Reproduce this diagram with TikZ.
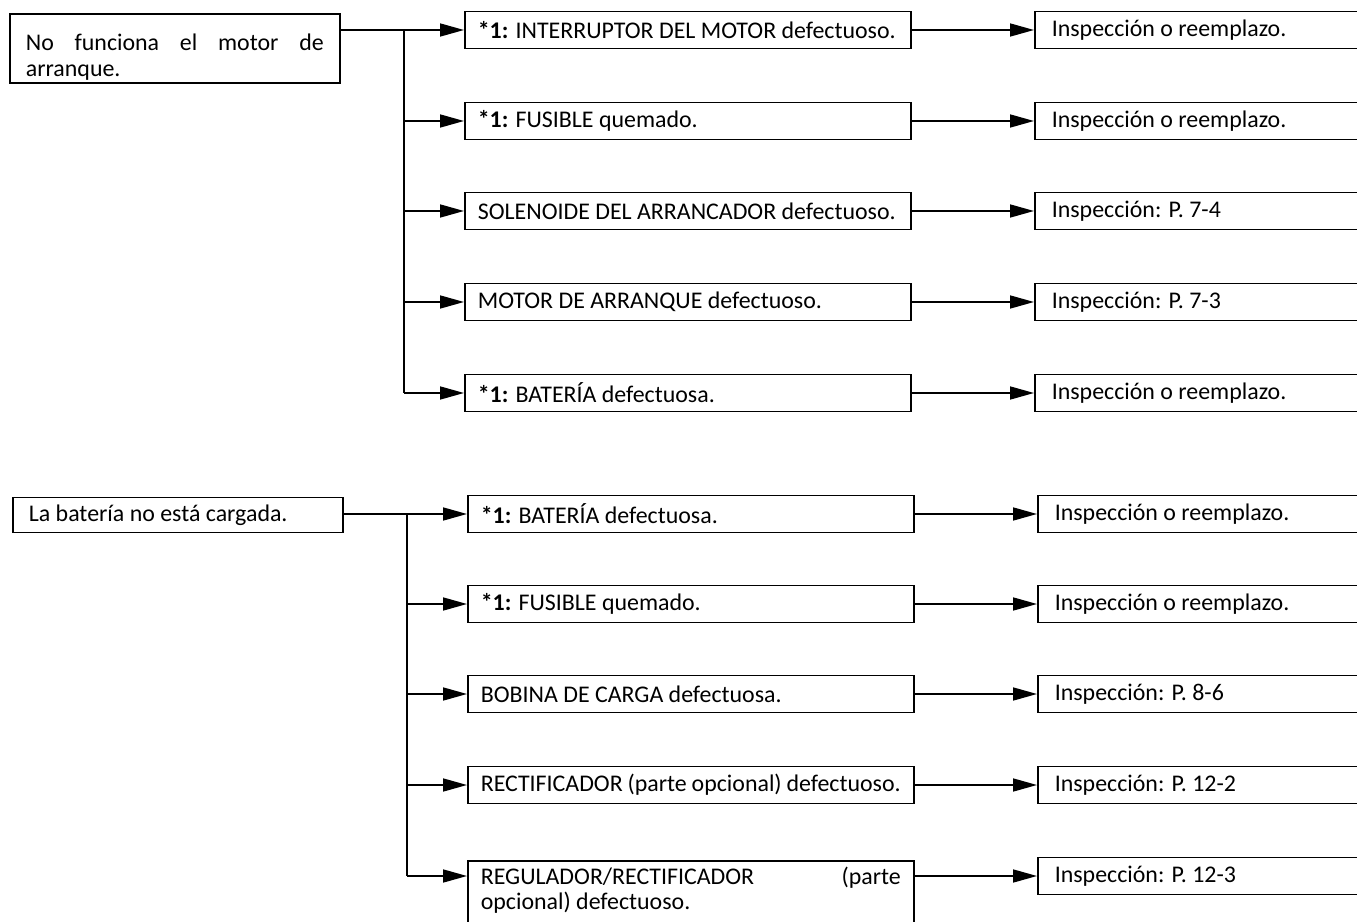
\documentclass[tikz,border=0pt]{standalone}
\usepackage{fontspec}
\setmainfont{Carlito}
\usetikzlibrary{arrows.meta,positioning}

\begin{document}
\begin{tikzpicture}[x=0.02cm,y=-0.02cm,
  font=\fontsize{13.6pt}{14.6pt}\selectfont,line width=0.95pt,
  srcbox/.style={draw,anchor=north west,minimum width=6.6cm,inner xsep=0.32cm,text width=5.96cm,align=justify},
  causebox/.style={draw,anchor=west,minimum height=0.74cm,inner xsep=0.26cm,text width=8.4cm,align=flush left},
  fixbox/.style={draw,anchor=west,minimum height=0.74cm,inner xsep=0.34cm,text width=6.3cm,align=flush left},
  arr/.style={-{Triangle[length=4.8mm,width=2.6mm]}}]
\useasboundingbox (0,0) rectangle (1357,922);

% starter motor
\node[srcbox,minimum height=1.38cm,text depth=0.25cm] (s1) at (9,13) {No funciona el motor de\linebreak arranque.};
\node[causebox] (m1) at (464,30) {\textbf{*1:} INTERRUPTOR DEL MOTOR defectuoso.};
\node[causebox] (m2) at (464,121) {\textbf{*1:} FUSIBLE quemado.};
\node[causebox] (m3) at (464,211) {SOLENOIDE DEL ARRANCADOR defectuoso.};
\node[causebox] (m4) at (464,302) {MOTOR DE ARRANQUE defectuoso.};
\node[causebox] (m5) at (464,393) {\textbf{*1:} BATERÍA defectuosa.};
\node[fixbox] (r1) at (1034,30) {Inspección o reemplazo.};
\node[fixbox] (r2) at (1034,121) {Inspección o reemplazo.};
\node[fixbox] (r3) at (1034,211) {Inspección: P. 7-4};
\node[fixbox] (r4) at (1034,302) {Inspección: P. 7-3};
\node[fixbox] (r5) at (1034,393) {Inspección o reemplazo.};
\coordinate (t1) at (404,0);

\draw (t1 |- m1.west) -- (t1 |- m5.west);
\draw[arr] (s1.east |- m1.west) -- (m1.west);
\draw[arr] (t1 |- m2.west) -- (m2.west);
\draw[arr] (t1 |- m3.west) -- (m3.west);
\draw[arr] (t1 |- m4.west) -- (m4.west);
\draw[arr] (t1 |- m5.west) -- (m5.west);
\draw[arr] (m1.east) -- (r1.west);
\draw[arr] (m2.east) -- (r2.west);
\draw[arr] (m3.east) -- (r3.west);
\draw[arr] (m4.east) -- (r4.west);
\draw[arr] (m5.east) -- (r5.west);

% battery not charged
\node[srcbox,anchor=west,minimum height=0.7cm] (s2) at (12,515) {La batería no está cargada.};
\node[causebox] (m6) at (467,514) {\textbf{*1:} BATERÍA defectuosa.};
\node[causebox] (m7) at (467,604) {\textbf{*1:} FUSIBLE quemado.};
\node[causebox] (m8) at (467,694) {BOBINA DE CARGA defectuosa.};
\node[causebox] (m9) at (467,785) {RECTIFICADOR (parte opcional) defectuoso.};
\node[causebox,anchor=north west,align=justify,text depth=0.9cm] (m10) at (467,860)
  {REGULADOR/RECTIFICADOR (parte\linebreak opcional) defectuoso.};
\node[fixbox] (r6) at (1037,514) {Inspección o reemplazo.};
\node[fixbox] (r7) at (1037,604) {Inspección o reemplazo.};
\node[fixbox] (r8) at (1037,694) {Inspección: P. 8-6};
\node[fixbox] (r9) at (1037,785) {Inspección: P. 12-2};
\node[fixbox] (r10) at (1037,876) {Inspección: P. 12-3};
\coordinate (t2) at (407,0);

\draw (t2 |- m6.west) -- (t2 |- r10.west);
\draw[arr] (s2.east |- m6.west) -- (m6.west);
\draw[arr] (t2 |- m7.west) -- (m7.west);
\draw[arr] (t2 |- m8.west) -- (m8.west);
\draw[arr] (t2 |- m9.west) -- (m9.west);
\draw[arr] (t2 |- r10.west) -- (m10.west |- r10.west);
\draw[arr] (m6.east) -- (r6.west);
\draw[arr] (m7.east) -- (r7.west);
\draw[arr] (m8.east) -- (r8.west);
\draw[arr] (m9.east) -- (r9.west);
\draw[arr] (m10.east |- r10.west) -- (r10.west);
\end{tikzpicture}
\end{document}
